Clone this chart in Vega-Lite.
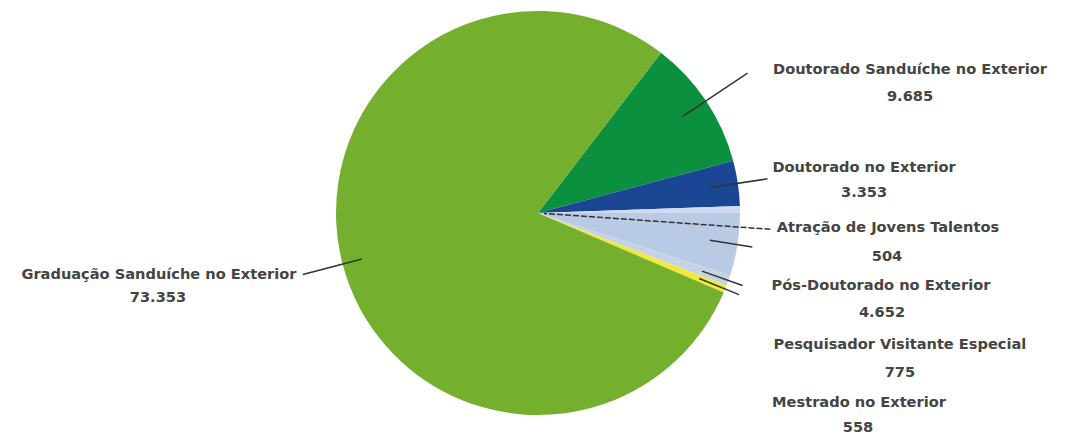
{
  "$schema": "https://vega.github.io/schema/vega-lite/v6.json",
  "width": 1064,
  "height": 426,
  "autosize": {"type": "none"},
  "padding": {"left": 6, "top": 0, "right": 0, "bottom": 10},
  "background": "white",
  "config": {
    "view": {"stroke": null},
    "locale": {"number": {"decimal": ",", "thousands": ".", "grouping": [3], "currency": ["R$", ""]}},
    "text": {"font": "DejaVu Sans", "fontSize": 14.6, "fontWeight": "bold", "color": "#444444", "align": "center", "baseline": "middle", "radius": 260}
  },
  "data": {
    "values": [
      {"ord": 1, "cat": "Doutorado Sanduíche no Exterior", "value": 9685},
      {"ord": 2, "cat": "Doutorado no Exterior", "value": 3353},
      {"ord": 3, "cat": "Atração de Jovens Talentos", "value": 504},
      {"ord": 4, "cat": "Pós-Doutorado no Exterior", "value": 4652},
      {"ord": 5, "cat": "Pesquisador Visitante Especial", "value": 775},
      {"ord": 6, "cat": "Mestrado no Exterior", "value": 558},
      {"ord": 7, "cat": "Graduação Sanduíche no Exterior", "value": 73353}
    ]
  },
  "encoding": {
    "theta": {"field": "value", "type": "quantitative", "stack": true, "scale": {"range": [0.6545, 6.93769]}},
    "order": {"field": "ord", "type": "quantitative"}
  },
  "layer": [
    {
      "mark": {"type": "arc", "outerRadius": 202},
      "encoding": {
        "color": {
          "field": "cat", "type": "nominal", "legend": null,
          "scale": {
            "domain": ["Doutorado Sanduíche no Exterior", "Doutorado no Exterior", "Atração de Jovens Talentos", "Pós-Doutorado no Exterior", "Pesquisador Visitante Especial", "Mestrado no Exterior", "Graduação Sanduíche no Exterior"],
            "range": ["#0b9040", "#1b4694", "#cfdcef", "#b9cae4", "#c5d3e9", "#f2e93c", "#74b02e"]
          }
        }
      }
    },
    {
      "transform": [
        {"stack": "value", "groupby": [], "sort": [{"field": "ord"}], "as": ["v0", "v1"]},
        {"fold": ["v0", "v1"], "as": ["edge", "pos"]}
      ],
      "layer": [
        {
          "transform": [{"filter": "datum.ord === 1"}, {"aggregate": [{"op": "mean", "field": "pos", "as": "mid"}], "groupby": ["cat"]}],
          "mark": {"type": "arc", "filled": false, "stroke": "#333333", "strokeWidth": 1.5, "innerRadius": 174, "outerRadius": 252}
        },
        {
          "transform": [{"filter": "datum.ord === 2"}, {"aggregate": [{"op": "mean", "field": "pos", "as": "mid"}], "groupby": ["cat"]}],
          "mark": {"type": "arc", "filled": false, "stroke": "#333333", "strokeWidth": 1.5, "innerRadius": 174, "outerRadius": 232}
        },
        {
          "transform": [{"filter": "datum.ord === 3 || datum.ord === 4"}, {"aggregate": [{"op": "mean", "field": "pos", "as": "mid"}]}],
          "mark": {"type": "arc", "filled": false, "stroke": "#333333", "strokeWidth": 1.5, "strokeDash": [6, 2], "innerRadius": 6, "outerRadius": 233}
        },
        {
          "transform": [{"filter": "datum.ord >= 4 && datum.ord <= 6"}, {"aggregate": [{"op": "mean", "field": "pos", "as": "mid"}], "groupby": ["cat"]}],
          "mark": {"type": "arc", "filled": false, "stroke": "#333333", "strokeWidth": 1.5, "innerRadius": 174, "outerRadius": 217}
        },
        {
          "transform": [{"filter": "datum.ord === 7"}, {"aggregate": [{"op": "mean", "field": "pos", "as": "mid"}], "groupby": ["cat"]}],
          "mark": {"type": "arc", "filled": false, "stroke": "#333333", "strokeWidth": 1.5, "innerRadius": 182, "outerRadius": 243}
        }
      ],
      "encoding": {
        "theta": {"field": "mid", "type": "quantitative", "scale": {"range": [0.6545, 6.93769]}},
        "theta2": {"field": "mid"}
      }
    },
    {"mark": {"type": "text", "dx": 155.8, "dy": 1.5}, "encoding": {"detail": {"field": "cat"}, "text": {"condition": {"test": "datum.ord === 1", "field": "cat", "type": "nominal"}, "value": ""}}},
    {"mark": {"type": "text", "dx": 155.8, "dy": 28.5}, "encoding": {"detail": {"field": "cat"}, "text": {"condition": {"test": "datum.ord === 1", "field": "value", "type": "quantitative", "format": ",.0f"}, "value": ""}}},
    {"mark": {"type": "text", "dx": 68.9, "dy": -6.8}, "encoding": {"detail": {"field": "cat"}, "text": {"condition": {"test": "datum.ord === 2", "field": "cat", "type": "nominal"}, "value": ""}}},
    {"mark": {"type": "text", "dx": 68.9, "dy": 18.2}, "encoding": {"detail": {"field": "cat"}, "text": {"condition": {"test": "datum.ord === 2", "field": "value", "type": "quantitative", "format": ",.0f"}, "value": ""}}},
    {"mark": {"type": "text", "dx": 90.0, "dy": 19.5}, "encoding": {"detail": {"field": "cat"}, "text": {"condition": {"test": "datum.ord === 3", "field": "cat", "type": "nominal"}, "value": ""}}},
    {"mark": {"type": "text", "dx": 89.0, "dy": 48.5}, "encoding": {"detail": {"field": "cat"}, "text": {"condition": {"test": "datum.ord === 3", "field": "value", "type": "quantitative", "format": ",.0f"}, "value": ""}}},
    {"mark": {"type": "text", "dx": 86.2, "dy": 32.3}, "encoding": {"detail": {"field": "cat"}, "text": {"condition": {"test": "datum.ord === 4", "field": "cat", "type": "nominal"}, "value": ""}}},
    {"mark": {"type": "text", "dx": 87.2, "dy": 59.3}, "encoding": {"detail": {"field": "cat"}, "text": {"condition": {"test": "datum.ord === 4", "field": "value", "type": "quantitative", "format": ",.0f"}, "value": ""}}},
    {"mark": {"type": "text", "dx": 116.9, "dy": 45.2}, "encoding": {"detail": {"field": "cat"}, "text": {"condition": {"test": "datum.ord === 5", "field": "cat", "type": "nominal"}, "value": ""}}},
    {"mark": {"type": "text", "dx": 116.9, "dy": 73.2}, "encoding": {"detail": {"field": "cat"}, "text": {"condition": {"test": "datum.ord === 5", "field": "value", "type": "quantitative", "format": ",.0f"}, "value": ""}}},
    {"mark": {"type": "text", "dx": 80.1, "dy": 92.2}, "encoding": {"detail": {"field": "cat"}, "text": {"condition": {"test": "datum.ord === 6", "field": "cat", "type": "nominal"}, "value": ""}}},
    {"mark": {"type": "text", "dx": 79.1, "dy": 117}, "encoding": {"detail": {"field": "cat"}, "text": {"condition": {"test": "datum.ord === 6", "field": "value", "type": "quantitative", "format": ",.0f"}, "value": ""}}},
    {"mark": {"type": "text", "dx": -127.5, "dy": -3.8}, "encoding": {"detail": {"field": "cat"}, "text": {"condition": {"test": "datum.ord === 7", "field": "cat", "type": "nominal"}, "value": ""}}},
    {"mark": {"type": "text", "dx": -128.5, "dy": 19.2}, "encoding": {"detail": {"field": "cat"}, "text": {"condition": {"test": "datum.ord === 7", "field": "value", "type": "quantitative", "format": ",.0f"}, "value": ""}}}
  ]
}
